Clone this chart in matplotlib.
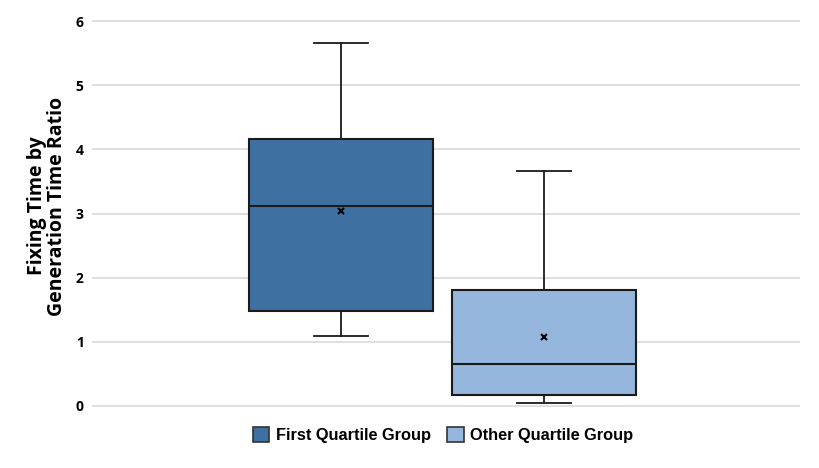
import matplotlib
matplotlib.use("Agg")
import matplotlib.pyplot as plt
from matplotlib.patches import Patch

groups = ["First Quartile Group", "Other Quartile Group"]
whislo = [1.09, 0.05]
q1 = [1.48, 0.17]
med = [3.12, 0.66]
q3 = [4.16, 1.81]
whishi = [5.66, 3.66]
means = [3.04, 1.08]
colors = ["#3E71A2", "#95B7DE"]

stats = []
for i, g in enumerate(groups):
    stats.append(dict(label=g, whislo=whislo[i], q1=q1[i], med=med[i], q3=q3[i],
                      whishi=whishi[i], mean=means[i], fliers=[]))

fig = plt.figure(figsize=(8.19, 4.68), dpi=100)
ax = fig.add_axes([92/819, 1-415.6/468, (800-92)/819, (415.6-11.4)/468])

bp = ax.bxp(stats, positions=[1, 2], widths=0.906, patch_artist=True, showmeans=True,
            showfliers=False,
            boxprops=dict(linewidth=1.5, edgecolor="#1a1a1a"),
            medianprops=dict(color="#1a1a1a", linewidth=1.5),
            whiskerprops=dict(color="#1a1a1a", linewidth=1.3),
            capprops=dict(color="#1a1a1a", linewidth=1.3),
            meanprops=dict(marker="x", markeredgecolor="black", markersize=4, markeredgewidth=1.5),
            capwidths=0.27)
for patch, c in zip(bp["boxes"], colors):
    patch.set_facecolor(c)

ax.set_xlim(-0.2266, 3.261)
ax.set_ylim(-0.15, 6.15)
ax.set_yticks(range(0, 7))
ax.set_yticklabels([str(v) for v in range(0, 7)], fontsize=10, fontweight="bold", family="Open Sans")
ax.set_xticks([])
ax.yaxis.grid(True, color="#d9d9d9", linewidth=1.2)
ax.set_axisbelow(True)
ax.tick_params(axis="y", length=0, pad=6)
for s in ax.spines.values():
    s.set_visible(False)

fig.text(47/819, 1-206/468, "Fixing Time by\nGeneration Time Ratio", rotation=90,
         ha="center", va="center", multialignment="center", fontsize=14, fontweight="bold",
         family="Open Sans", linespacing=1.05)

handles = [Patch(facecolor=c, edgecolor="#333333", linewidth=1.2, label=g) for g, c in zip(groups, colors)]
fig.legend(handles=handles, loc="center", bbox_to_anchor=(443/819, 1-435/468), ncol=2, frameon=False,
           prop=dict(family="Liberation Sans", weight="bold", size=11.8),
           handlelength=1.0, handleheight=1.0, handletextpad=0.4, columnspacing=1.0)

fig.savefig("out.png", dpi=100)
